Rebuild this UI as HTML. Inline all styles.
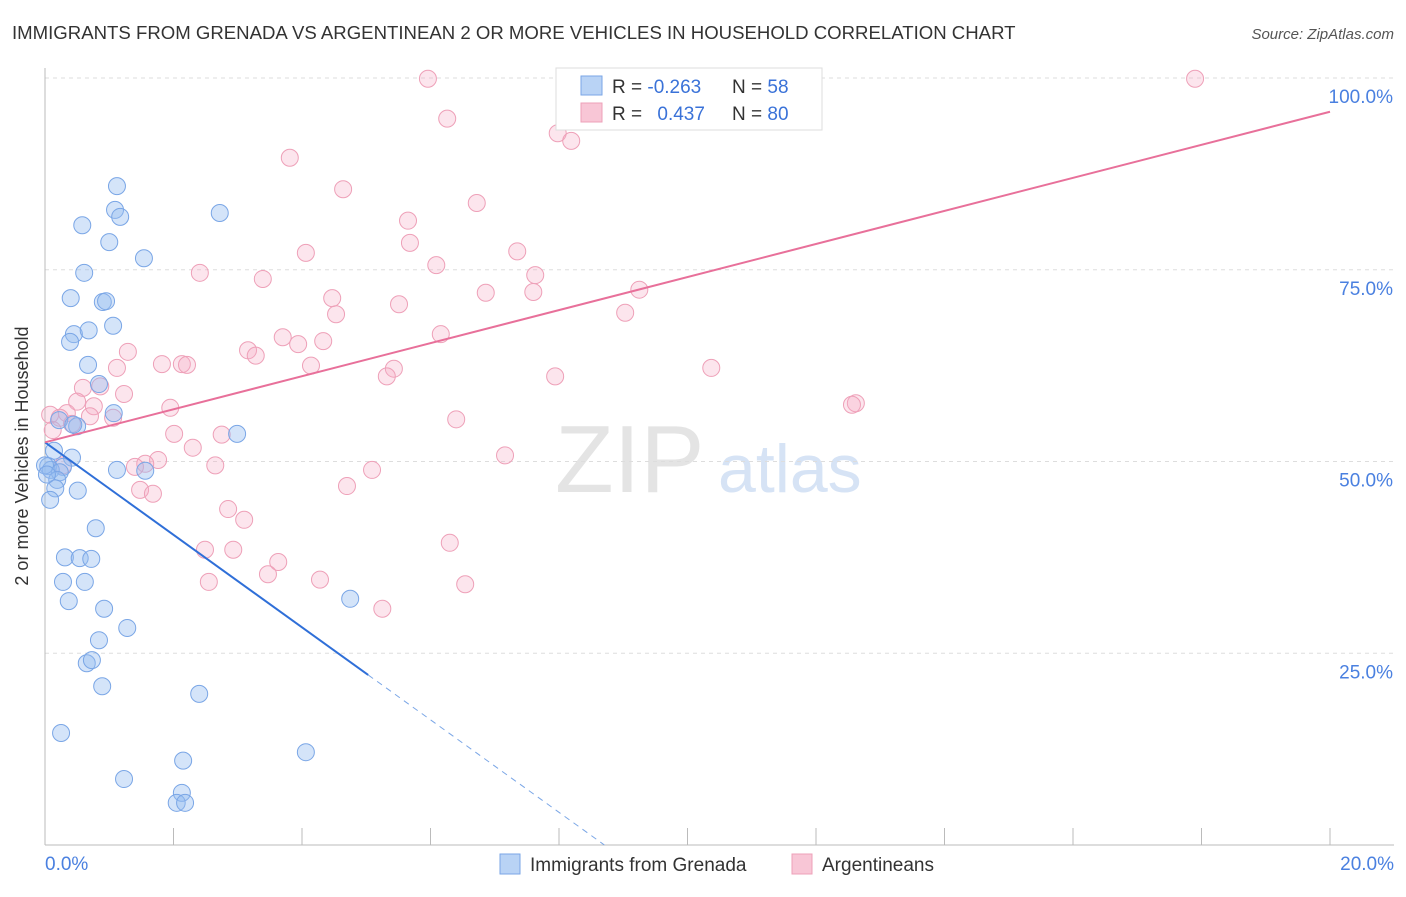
<!DOCTYPE html>
<html><head><meta charset="utf-8"><style>
body{margin:0;background:#fff;font-family:"Liberation Sans",sans-serif;}
svg text{font-family:"Liberation Sans",sans-serif;}
</style></head><body>
<svg id="chart" width="1406" height="892">
<text x="12" y="39" font-size="18.6" fill="#333">IMMIGRANTS FROM GRENADA VS ARGENTINEAN 2 OR MORE VEHICLES IN HOUSEHOLD CORRELATION CHART</text>
<text x="1394" y="39" font-size="15" fill="#555" font-style="italic" text-anchor="end">Source: ZipAtlas.com</text>
<text x="28" y="456" font-size="18" fill="#333" text-anchor="middle" transform="rotate(-90 28 456)">2 or more Vehicles in Household</text>
<text x="555" y="492" font-size="96" fill="#e4e4e4" font-family="Liberation Serif">ZIP</text>
<text x="718" y="492" font-size="68" fill="#d6e3f5">atlas</text>
<g id="grid"></g><g id="pts"></g><g id="lines"></g>
<g>
<rect x="556" y="68" width="266" height="62" fill="#fff" stroke="#ddd"/>
<rect x="581" y="76" width="21" height="19" fill="#b9d3f5" stroke="#7aa6e6"/>
<rect x="581" y="103" width="21" height="19" fill="#f8c6d6" stroke="#eea0b8"/>
<text x="612" y="93" font-size="19" fill="#333">R = <tspan fill="#3a72d8">-0.263</tspan></text>
<text x="732" y="93" font-size="19" fill="#333">N = <tspan fill="#3a72d8">58</tspan></text>
<text x="612" y="120" font-size="19" fill="#333">R = <tspan fill="#3a72d8" dx="10">0.437</tspan></text>
<text x="732" y="120" font-size="19" fill="#333">N = <tspan fill="#3a72d8">80</tspan></text>
</g>
<g>
<rect x="500" y="854" width="20" height="20" fill="#b9d3f5" stroke="#7aa6e6"/>
<text x="530" y="871" font-size="19" fill="#333">Immigrants from Grenada</text>
<rect x="792" y="854" width="20" height="20" fill="#f8c6d6" stroke="#eea0b8"/>
<text x="822" y="871" font-size="19" fill="#333">Argentineans</text>
</g>
</svg>
<script>
const blueX=[1.12,1.09,1.17,0.58,1.00,1.54,2.72,0.61,0.40,0.90,0.95,1.06,0.45,0.68,0.39,0.67,0.84,1.07,0.22,0.50,0.44,2.99,0.14,0.42,0.05,0.28,0.09,0.23,1.12,1.56,0.19,0.16,0.51,0.08,0.79,0.31,0.54,0.72,0.28,0.62,0.37,0.92,4.75,1.28,0.84,0.65,0.73,0.89,2.40,0.25,4.06,2.15,1.23,2.13,2.05,2.18,0.0,0.03];
const blueY=[85.9,82.8,81.9,80.8,78.6,76.5,82.4,74.6,71.3,70.8,70.9,67.7,66.6,67.1,65.6,62.6,60.1,56.3,55.4,54.6,54.8,53.6,51.4,50.5,49.4,49.3,48.9,48.6,48.9,48.8,47.6,46.5,46.2,45.0,41.3,37.5,37.4,37.3,34.3,34.3,31.8,30.8,32.1,28.3,26.7,23.7,24.1,20.7,19.7,14.6,12.1,11.0,8.6,6.8,5.5,5.5,49.5,48.3];
const pinkX=[5.96,17.90,6.26,7.98,8.19,3.81,4.64,6.72,5.65,5.68,4.06,7.35,2.41,3.39,6.09,7.63,7.60,6.86,4.47,5.51,4.53,9.03,9.25,6.16,3.70,4.33,3.94,3.16,3.28,1.29,1.82,2.13,2.21,4.14,1.12,5.43,5.32,7.94,10.37,12.62,12.56,0.86,0.59,1.23,0.50,0.76,1.06,1.95,0.34,0.08,0.42,0.70,6.40,2.01,2.75,2.30,7.16,1.76,1.56,1.40,2.65,5.09,1.48,1.68,4.70,2.85,3.10,6.30,2.49,2.93,3.63,3.47,2.55,4.28,6.54,5.25,0.23,0.12,0.28];
const pinkY=[99.9,99.9,94.7,92.8,91.8,89.6,85.5,83.7,81.4,78.5,77.2,77.4,74.6,73.8,75.6,74.3,72.1,72.0,71.3,70.5,69.2,69.4,72.4,66.6,66.2,65.7,65.3,64.5,63.8,64.3,62.7,62.7,62.6,62.5,62.2,62.1,61.1,61.1,62.2,57.6,57.4,59.8,59.6,58.8,57.8,57.2,55.7,57.0,56.3,56.1,54.9,55.9,55.5,53.6,53.5,51.8,50.8,50.2,49.7,49.3,49.5,48.9,46.3,45.8,46.8,43.8,42.4,39.4,38.5,38.5,36.9,35.3,34.3,34.6,34.0,30.8,55.7,54.1,49.5];
const blueLine=[52.5,-6.03];
const pinkLine=[52.5,2.155];
const yTicks=[25,50,75,100];
const xTicks=[0,2,4,6,8,10,12,14,16,18,20];
const NS='http://www.w3.org/2000/svg';
const X=v=>45+v/20*1285, Y=v=>845-v/100*767;
function mk(t,a,p){const e=document.createElementNS(NS,t);for(const k in a)e.setAttribute(k,a[k]);p.appendChild(e);return e;}
const grid=document.getElementById('grid');
yTicks.forEach(t=>{
 const l=mk('line',{x1:45,x2:1394,y1:Y(t),y2:Y(t),stroke:'#ddd','stroke-dasharray':'4,4'},grid);
 
 
 const tx=mk('text',{x:1393,y:Y(t)+25,'font-size':19,fill:'#4a80e0','text-anchor':'end'},grid);
 tx.textContent=t.toFixed(1)+'%';
 
 
});
const ax=mk('line',{x1:45,x2:1394,y1:845,y2:845,stroke:'#bbb'},grid);


const ay=mk('line',{x1:45,x2:45,y1:68,y2:845,stroke:'#bbb'},grid);


xTicks.forEach(t=>{
 const l=mk('line',{x1:X(t),x2:X(t),y1:828,y2:845,stroke:'#bbb'},grid);
 
 
});
[[0,'0.0%','start',45],[20,'20.0%','end',1394]].forEach(d=>{
 const tx=mk('text',{x:d[3],y:870,'font-size':19,fill:'#4a80e0','text-anchor':d[2]},grid);
 tx.textContent=d[1];
 
 
});
const pts=document.getElementById('pts');
pinkX.forEach((x,i)=>{
 const c=mk('circle',{cx:X(x),cy:Y(pinkY[i]),r:8.5,fill:'rgba(245,170,195,0.3)',stroke:'#eea0b8','stroke-width':1},pts);
 
 
});
blueX.forEach((x,i)=>{
 const c=mk('circle',{cx:X(x),cy:Y(blueY[i]),r:8.5,fill:'rgba(147,187,240,0.4)',stroke:'#7aa6e6','stroke-width':1},pts);
 
 
});
const lines=document.getElementById('lines');
const bf=x=>blueLine[0]+blueLine[1]*x, pf=x=>pinkLine[0]+pinkLine[1]*x;
const xEnd=-blueLine[0]/blueLine[1];
const b1=mk('line',{x1:X(0),y1:Y(bf(0)),x2:X(5.03),y2:Y(bf(5.03)),stroke:'#2f6fd8','stroke-width':2},lines);


const b2=mk('line',{x1:X(5.03),y1:Y(bf(5.03)),x2:X(xEnd),y2:Y(0),stroke:'#7aa6e6','stroke-width':1,'stroke-dasharray':'6,5'},lines);


const p1=mk('line',{x1:X(0),y1:Y(pf(0)),x2:X(20),y2:Y(pf(20)),stroke:'#e8709a','stroke-width':2},lines);


</script>
</body></html>
